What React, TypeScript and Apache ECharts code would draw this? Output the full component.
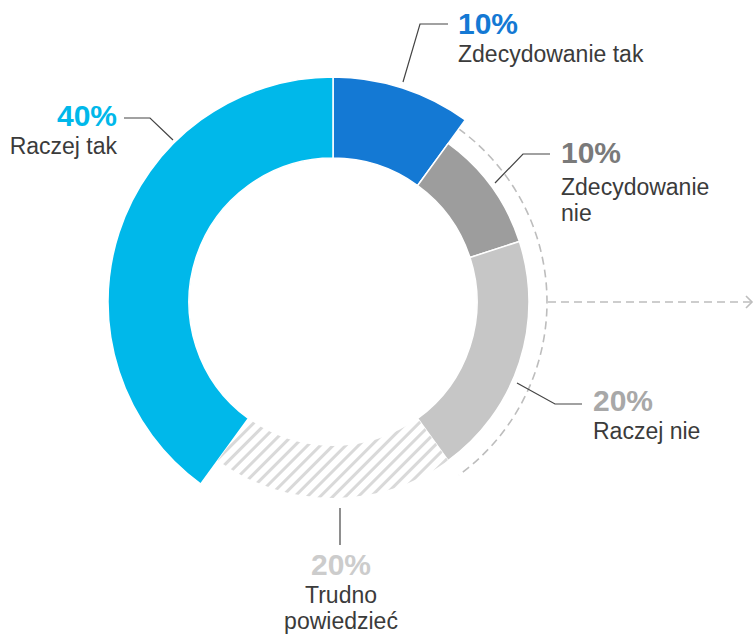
import React, { useEffect, useRef } from 'react';
import * as echarts from 'echarts';

// ---- data ----
const categories = ['Zdecydowanie tak', 'Zdecydowanie nie', 'Raczej nie', 'Trudno powiedzieć', 'Raczej tak'];
const values = [10, 10, 20, 20, 40];
const labelNames = ['Zdecydowanie tak', 'Zdecydowanie\nnie', 'Raczej nie', 'Trudno\npowiedzieć', 'Raczej tak'];
const sliceColors = ['#1479D4', '#9D9D9D', '#C6C6C6', '#FFFFFF', '#00B8EA'];
const pctColors = ['#1479D4', '#7A7A7A', '#A8A8A8', '#CCCCCC', '#00B8EA'];
const bigRing = [true, false, false, false, true];
const hatched = [false, false, false, true, false];
const bracketed = [false, true, true, false, false];

// ---- layout ----
const CX = 333;
const CY = 302;
const R_IN = 144;
const R_BIG = 225;
const R_SMALL = 196;
const R_ARC = 214;
const ARROW_END = 752;
const TEXT = '#3B3B3B';
const FONT = '"Liberation Sans", Arial, sans-serif';
const PCT_SIZE = 30;
const NAME_SIZE = 23;
const NAME_LH = 26;

type LabelPos = { x: number; pctBase: number; nameBase: number; align: string; line: number[][] };
const labelPos: LabelPos[] = [
  { x: 458, pctBase: 34, nameBase: 62, align: 'left', line: [[403, 82], [420, 24], [448, 24]] },
  { x: 561, pctBase: 163, nameBase: 195, align: 'left', line: [[495, 183], [523, 154], [550, 154]] },
  { x: 593, pctBase: 411, nameBase: 439, align: 'left', line: [[517, 383], [555, 404], [582, 404]] },
  { x: 341, pctBase: 575, nameBase: 603, align: 'center', line: [[340, 508], [340, 545]] },
  { x: 117, pctBase: 126, nameBase: 154, align: 'right', line: [[173, 140], [150, 118], [124, 118]] },
];

export default function App() {
  const ref = useRef<HTMLDivElement>(null);

  useEffect(() => {
    if (!ref.current) return;
    const chart = echarts.init(ref.current, null, { renderer: 'svg' });

    const total = values.reduce((a, b) => a + b, 0);
    const firstB = bracketed.indexOf(true);
    const lastB = bracketed.lastIndexOf(true);
    const before = values.slice(0, firstB).reduce((a, b) => a + b, 0);
    const through = values.slice(0, lastB + 1).reduce((a, b) => a + b, 0);
    const a0 = ((before / total) * 360 - 90) * Math.PI / 180;
    const a1 = ((through / total) * 360 - 90) * Math.PI / 180;

    const hidden = { color: 'rgba(0,0,0,0)', borderWidth: 0 };
    const bigData = categories.map((name, i) => ({
      name,
      value: values[i],
      itemStyle: bigRing[i] ? { color: sliceColors[i], borderColor: '#fff', borderWidth: 1.5 } : hidden,
    }));
    const smallData = categories.map((name, i) => ({
      name,
      value: values[i],
      itemStyle: bigRing[i]
        ? hidden
        : hatched[i]
        ? {
            color: '#FFFFFF',
            borderWidth: 0,
            decal: {
              symbol: 'rect',
              color: '#D9D9D9',
              dashArrayX: [1, 0],
              dashArrayY: [2.2, 5.8],
              rotation: -Math.PI / 4,
            },
          }
        : { color: sliceColors[i], borderColor: '#fff', borderWidth: 1.5 },
    }));

    const pieCommon = {
      type: 'pie',
      center: [CX, CY],
      startAngle: 90,
      clockwise: true,
      silent: true,
      label: { show: false },
      labelLine: { show: false },
      emphasis: { disabled: true },
    };

    const graphics: any[] = [];
    graphics.push({
      type: 'arc',
      shape: { cx: CX, cy: CY, r: R_ARC, startAngle: a0, endAngle: a1, clockwise: true },
      style: { stroke: '#BDBDBD', lineWidth: 1.6, lineDash: [8, 5], fill: 'none' },
      silent: true,
    });
    graphics.push({
      type: 'line',
      shape: { x1: CX + R_ARC + 1, y1: CY, x2: ARROW_END, y2: CY },
      style: { stroke: '#BDBDBD', lineWidth: 1.6, lineDash: [8, 5] },
      silent: true,
    });
    graphics.push({
      type: 'polyline',
      shape: { points: [[ARROW_END - 6, CY - 6], [ARROW_END, CY], [ARROW_END - 6, CY + 6]] },
      style: { stroke: '#BDBDBD', lineWidth: 1.6, fill: 'none' },
      silent: true,
    });

    labelPos.forEach((p, i) => {
      graphics.push({
        type: 'polyline',
        shape: { points: p.line },
        style: { stroke: '#444', lineWidth: 1.2, fill: 'none' },
        silent: true,
      });
      const nameOffset = 0.35 * NAME_SIZE;
      const pctOffset = 0.35 * PCT_SIZE;
      const lh1 = 2 * (p.nameBase - p.pctBase - NAME_LH / 2 - nameOffset + pctOffset);
      const top = p.pctBase - pctOffset - lh1 / 2;
      const nameLines = labelNames[i].split('\n').map((s) => `{n|${s}}`).join('\n');
      graphics.push({
        type: 'text',
        x: p.x,
        y: top,
        style: {
          text: `{p|${values[i]}%}\n${nameLines}`,
          align: p.align,
          verticalAlign: 'top',
          rich: {
            p: {
              fontFamily: FONT,
              fontWeight: 'bold',
              fontSize: PCT_SIZE,
              lineHeight: lh1,
              fill: pctColors[i],
              align: p.align,
            },
            n: {
              fontFamily: FONT,
              fontSize: NAME_SIZE,
              lineHeight: NAME_LH,
              fill: TEXT,
              align: p.align,
            },
          },
        },
        silent: true,
      });
    });

    chart.setOption({
      animation: false,
      backgroundColor: '#FFFFFF',
      series: [
        { ...pieCommon, name: 'outer', radius: [R_IN, R_BIG], data: bigData, z: 2 },
        { ...pieCommon, name: 'inner', radius: [R_IN, R_SMALL], data: smallData, z: 3 },
      ],
      graphic: graphics,
    });

    return () => chart.dispose();
  }, []);

  return (
    <div
      ref={ref}
      style={{ position: 'absolute', left: 0, top: 0, width: 755, height: 639 }}
    />
  );
}
